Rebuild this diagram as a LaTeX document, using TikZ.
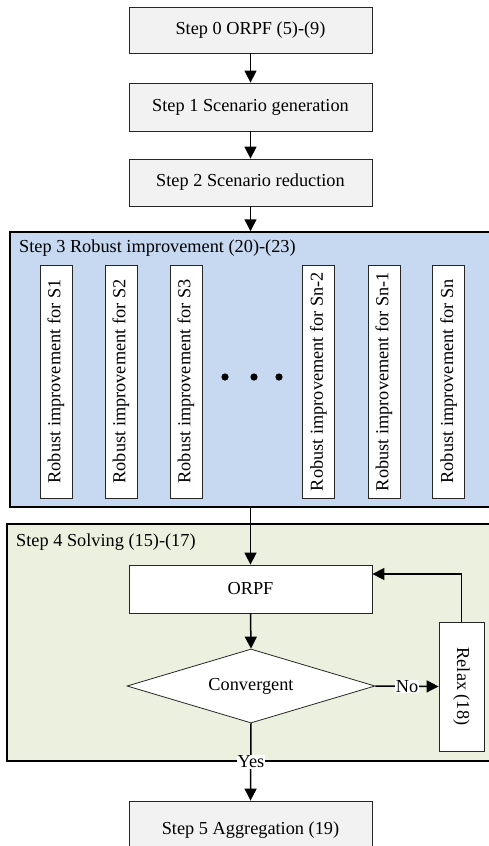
\documentclass[tikz,border=0pt]{standalone}
\usepackage{fontspec}
\setmainfont{Liberation Serif}
\usetikzlibrary{arrows.meta,shapes.geometric}
\definecolor{stepgray}{HTML}{F2F2F2}
\definecolor{grpblue}{HTML}{C6D9F1}
\definecolor{grpgreen}{HTML}{EBF1DE}
\begin{document}
\begin{tikzpicture}[x=1pt,y=-1pt,
  every node/.style={font=\fontsize{18.3}{22}\selectfont},
  stepbox/.style={draw=black!85,line width=0.8pt,fill=stepgray,minimum width=243pt,inner sep=0pt},
  wbox/.style={draw=black!85,line width=0.8pt,fill=white,inner sep=0pt},
  grp/.style={draw=black,line width=1.5pt},
  arr/.style={line width=1.5pt,-{Triangle[length=12pt,width=12pt]}},
  lbl/.style={fill=white,inner sep=0.5pt}]
\clip (0,0) rectangle (489,846);
\fill[white] (0,0) rectangle (489,846);
% top steps
\node[stepbox,minimum height=46pt] (s0) at (250.5,30) {Step 0 ORPF (5)-(9)};
\node[stepbox,minimum height=48pt] (s1) at (250.5,107) {Step 1 Scenario generation};
\node[stepbox,minimum height=47pt] (s2) at (250.5,182.5) {Step 2 Scenario reduction};
% group 3
\node[grp,fill=grpblue,minimum width=485pt,minimum height=275pt,inner sep=0pt] (g3) at (252.5,369.5) {};
\node[anchor=west,inner sep=0pt] (g3l) at (19,248) {Step 3 Robust improvement (20)-(23)};
\foreach \nm/\xx/\lab in {r1/56/S1, r2/121/S2, r3/186/S3, r4/318.5/Sn-2, r5/384/Sn-1, r6/448.5/Sn}{
  \node[wbox,minimum width=32pt,minimum height=233pt] (\nm) at (\xx,381.5) {};
  \node[rotate=90,inner sep=0pt] (\nm t) at (\nm.center) {Robust improvement for \lab};
}
\foreach \xx in {225,254,279}{
  \fill (\xx,377) circle (3.6pt);
}
% group 4
\node[grp,fill=grpgreen,minimum width=488pt,minimum height=237pt,inner sep=0pt] (g4) at (251,642.5) {};
\node[anchor=west,inner sep=0pt] (g4l) at (16,542) {Step 4 Solving (15)-(17)};
\node[wbox,minimum width=243pt,minimum height=48pt] (orpf) at (250.5,589) {ORPF};
\node[wbox,diamond,aspect=3.35,minimum width=248pt,minimum height=74pt] (conv) at (251,686) {Convergent};
\node[wbox,minimum width=45pt,minimum height=129pt] (relax) at (461.5,686.5) {};
\node[rotate=-90,inner sep=0pt] (relaxt) at (relax.center) {Relax (18)};
% step 5
\node[stepbox,minimum height=58pt] (s5) at (250.5,830) {Step 5 Aggregation (19)};
% connectors
\draw[arr] (s0.south) -- (s1.north);
\draw[arr] (s1.south) -- (s2.north);
\draw[arr] (s2.south) -- (s2.south |- g3.north);
\draw[arr] (orpf.north |- g3.south) -- (orpf.north);
\draw[arr] (orpf.south) -- (conv.north);
\draw[arr] (conv.east) -- node[lbl]{No} (relax.west);
\draw[arr] (relax.north) |- ([yshift=15pt]orpf.east);
\draw[arr] (conv.south) -- (s5.north);
\node[lbl] (yes) at (251,762) {Yes};
\end{tikzpicture}
\end{document}
